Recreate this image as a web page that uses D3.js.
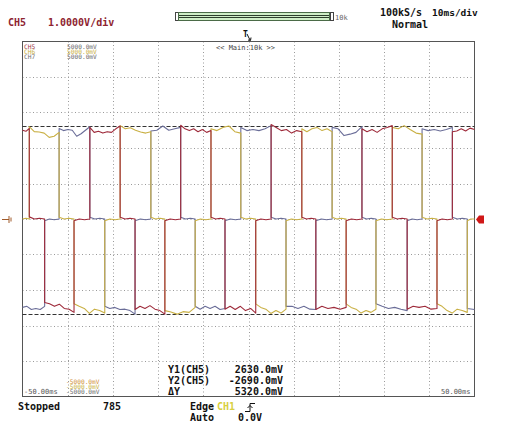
<!DOCTYPE html>
<html>
<head>
<meta charset="utf-8">
<script src="https://cdn.jsdelivr.net/npm/d3@7"></script>
<style>
  html, body { margin: 0; padding: 0; background: #fff; }
  svg { display: block; }
  text { font-family: "DejaVu Sans Mono", "Liberation Mono", monospace; }
  .big { font-size: 10px; font-weight: bold; }
</style>
</head>
<body>
<script>
// Scope capture: three line-voltage channels (six-step waveform), 10 ms/div, 1 V/div.

// Horizontal grid (ms) and vertical grid (V)
const timeTicks = [-50, -40, -30, -20, -10, 0, 10, 20, 30, 40, 50];
const voltTicks = [-5, -4, -3, -2, -1, 0, 1, 2, 3, 4, 5];
const timeLabels = ["-50.00ms", "50.00ms"];

// Cursor readouts (mV)
const cursorY1 = 2630.0;
const cursorY2 = -2690.0;
const cursorDelta = 5320.0;

// Channel info
const channels = ["CH5", "CH6", "CH7"];
const channelColors = ["#9e2a3a", "#c9b044", "#6a6d98"];
const channelTop = ["5000.0mV", "5000.0mV", "5000.0mV"];
const channelBottom = ["-5000.0mV", "-5000.0mV", "-5000.0mV"];

// Each segment: [start ms, end ms, samples (V) spread across the segment]
const ch5 = [
  [-50.0, -48.5, [2.50, 2.47, 2.55]],
  [-48.5, -45.1, [0.06, 0.0, 0.02, 0.0]],
  [-45.1, -38.6, [-2.35, -2.39, -2.46, -2.40, -2.52, -2.54, -2.63]],
  [-38.6, -35.1, [-0.05, 0.0, -0.02, 0.0]],
  [-35.1, -28.4, [2.58, 2.44, 2.47, 2.42, 2.46, 2.44, 2.54, 2.62]],
  [-28.4, -25.1, [0.05, 0.0, 0.02, 0.0]],
  [-25.1, -18.5, [-2.55, -2.46, -2.52, -2.44, -2.54, -2.58, -2.68]],
  [-18.5, -15.0, [-0.05, 0.0, -0.02, 0.0]],
  [-15.0, -8.3, [2.64, 2.54, 2.49, 2.54, 2.46, 2.52, 2.44, 2.49]],
  [-8.3, -5.2, [0.05, 0.0, 0.02, 0.0]],
  [-5.2, 1.6, [-2.54, -2.46, -2.55, -2.46, -2.58, -2.52, -2.65]],
  [1.6, 5.0, [-0.05, 0.0, -0.02, 0.0]],
  [5.0, 11.8, [2.66, 2.58, 2.49, 2.52, 2.42, 2.49, 2.46]],
  [11.8, 14.9, [0.05, 0.0, 0.02, 0.0]],
  [14.9, 21.6, [-2.55, -2.46, -2.52, -2.49, -2.54, -2.49]],
  [21.6, 25.1, [-0.05, 0.0, -0.02, 0.0]],
  [25.1, 31.8, [2.54, 2.46, 2.52, 2.44, 2.54, 2.58, 2.63]],
  [31.8, 35.1, [0.05, 0.0, 0.02, 0.0]],
  [35.1, 41.7, [-2.54, -2.46, -2.49, -2.46, -2.54, -2.52]],
  [41.7, 45.1, [-0.05, 0.0, -0.02, 0.0]],
  [45.1, 50.0, [2.46, 2.48, 2.54, 2.48, 2.56, 2.52]]
];

const ch6 = [
  [-50.0, -48.5, [0.0, 0.02, 0.0]],
  [-48.5, -41.9, [2.60, 2.46, 2.45, 2.42, 2.30, 2.33, 2.44]],
  [-41.9, -38.6, [0.05, 0.0, 0.02, 0.0]],
  [-38.6, -31.8, [-2.39, -2.46, -2.52, -2.66, -2.54, -2.58, -2.65]],
  [-31.8, -28.4, [-0.05, 0.0, -0.02, 0.0]],
  [-28.4, -21.6, [2.63, 2.54, 2.57, 2.50, 2.45, 2.42, 2.46]],
  [-21.6, -18.5, [0.05, 0.0, 0.02, 0.0]],
  [-18.5, -11.8, [-2.58, -2.62, -2.68, -2.61, -2.63, -2.49]],
  [-11.8, -8.3, [-0.05, 0.0, -0.02, 0.0]],
  [-8.3, -1.7, [2.54, 2.49, 2.58, 2.62, 2.46, 2.42]],
  [-1.7, 1.6, [0.05, 0.0, 0.02, 0.0]],
  [1.6, 8.3, [-2.39, -2.49, -2.54, -2.66, -2.58, -2.65, -2.54]],
  [8.3, 11.8, [-0.05, 0.0, -0.02, 0.0]],
  [11.8, 18.5, [2.54, 2.46, 2.54, 2.58, 2.49, 2.54, 2.46]],
  [18.5, 21.6, [0.05, 0.0, 0.02, 0.0]],
  [21.6, 28.2, [-2.39, -2.49, -2.54, -2.65, -2.58, -2.63, -2.54]],
  [28.2, 31.8, [-0.05, 0.0, -0.02, 0.0]],
  [31.8, 38.4, [2.58, 2.54, 2.63, 2.52, 2.42, 2.39]],
  [38.4, 41.7, [0.05, 0.0, 0.02, 0.0]],
  [41.7, 48.4, [-2.39, -2.46, -2.58, -2.65, -2.54, -2.58, -2.63]],
  [48.4, 50.0, [-0.05, 0.0, 0.0]]
];

const ch7 = [
  [-50.0, -45.1, [-2.49, -2.46, -2.55, -2.52, -2.55, -2.46]],
  [-45.1, -41.9, [-0.05, 0.0, -0.02, 0.0]],
  [-41.9, -35.1, [2.55, 2.49, 2.52, 2.50, 2.33, 2.40, 2.50, 2.60]],
  [-35.1, -31.8, [0.05, 0.0, 0.02, 0.0]],
  [-31.8, -25.1, [-2.46, -2.52, -2.49, -2.55, -2.54, -2.58, -2.68]],
  [-25.1, -21.6, [-0.05, 0.0, -0.02, 0.0]],
  [-21.6, -15.0, [2.48, 2.50, 2.62, 2.50, 2.54, 2.58]],
  [-15.0, -11.8, [0.05, 0.0, 0.02, 0.0]],
  [-11.8, -5.2, [-2.46, -2.54, -2.46, -2.52, -2.46, -2.55, -2.52]],
  [-5.2, -1.7, [-0.05, 0.0, -0.02, 0.0]],
  [-1.7, 5.0, [2.58, 2.49, 2.52, 2.49, 2.54, 2.63]],
  [5.0, 8.3, [0.05, 0.0, 0.02, 0.0]],
  [8.3, 14.9, [-2.46, -2.46, -2.52, -2.46, -2.54, -2.55]],
  [14.9, 18.5, [-0.05, 0.0, -0.02, 0.0]],
  [18.5, 25.1, [2.58, 2.54, 2.35, 2.39, 2.44, 2.60]],
  [25.1, 28.2, [0.05, 0.0, 0.02, 0.0]],
  [28.2, 35.1, [-2.39, -2.46, -2.52, -2.49, -2.54, -2.58]],
  [35.1, 38.4, [-0.05, 0.0, -0.02, 0.0]],
  [38.4, 45.1, [2.54, 2.49, 2.52, 2.48, 2.52, 2.58]],
  [45.1, 48.4, [0.05, 0.0, 0.02, 0.0]],
  [48.4, 50.0, [-2.52, -2.55]]
];

const W = 506, H = 423;
const plot = { left: 22.5, right: 474.5, top: 41.5, bottom: 396.5 };

const x = d3.scaleLinear().domain([-50, 50]).range([plot.left, plot.right]);
const y = d3.scaleLinear().domain([-5, 5]).range([plot.bottom, plot.top]);

const svg = d3.select("body").append("svg").attr("width", W).attr("height", H);

// ---- header ----
const head = svg.append("g");
head.append("text").attr("class", "big").attr("x", 8).attr("y", 26)
  .attr("fill", "#8e2430").text("CH5");
head.append("text").attr("class", "big").attr("x", 48).attr("y", 26)
  .attr("fill", "#8e2430").text("1.0000V/div");

// zoom position bar
head.append("rect").attr("x", 175.5).attr("y", 12.5).attr("width", 3).attr("height", 8)
  .attr("fill", "#fff").attr("stroke", "#444");
head.append("rect").attr("x", 178.5).attr("y", 12.5).attr("width", 151).attr("height", 8)
  .attr("fill", "#cfeec6").attr("stroke", "#4b6b48");
head.append("line").attr("x1", 179).attr("x2", 329).attr("y1", 15.5).attr("y2", 15.5).attr("stroke", "#2d3d2c");
head.append("line").attr("x1", 179).attr("x2", 329).attr("y1", 17.5).attr("y2", 17.5).attr("stroke", "#2d3d2c");
head.append("rect").attr("x", 330.5).attr("y", 12.5).attr("width", 3).attr("height", 8)
  .attr("fill", "#fff").attr("stroke", "#444");
head.append("text").attr("x", 335).attr("y", 20).attr("font-size", 7)
  .attr("fill", "#666").text("10k");

head.append("text").attr("class", "big").attr("x", 380).attr("y", 16)
  .attr("fill", "#111").text("100kS/s");
head.append("text").attr("class", "big").attr("x", 432).attr("y", 16).style("font-size", "9.5px")
  .attr("fill", "#111").text("10ms/div");
head.append("text").attr("class", "big").attr("x", 392).attr("y", 28)
  .attr("fill", "#111").text("Normal");

// trigger position marker
head.append("text").attr("x", 243).attr("y", 37).attr("font-size", 8).attr("font-weight", "bold")
  .attr("fill", "#111").text("T");
head.append("path").attr("d", "M247,34 L250,40 M248,40 L250.5,40.5 L251,37.5")
  .attr("stroke", "#111").attr("fill", "none").attr("stroke-width", 1);

// ---- graticule ----
const grid = svg.append("g");
grid.selectAll("line.v").data(timeTicks.slice(1, -1)).join("line")
  .attr("x1", d => Math.round(x(d)) + 0.5).attr("x2", d => Math.round(x(d)) + 0.5)
  .attr("y1", plot.top).attr("y2", plot.bottom)
  .attr("stroke", "#9a9a9a").attr("stroke-dasharray", "1,2.5");
grid.selectAll("line.h").data(voltTicks.slice(1, -1)).join("line")
  .attr("y1", d => Math.round(y(d)) + 0.5).attr("y2", d => Math.round(y(d)) + 0.5)
  .attr("x1", plot.left).attr("x2", plot.right)
  .attr("stroke", "#9a9a9a").attr("stroke-dasharray", "1,2.5");
grid.append("rect").attr("x", plot.left).attr("y", plot.top)
  .attr("width", plot.right - plot.left).attr("height", plot.bottom - plot.top)
  .attr("fill", "none").attr("stroke", "#555");

// cursor lines
[cursorY1, cursorY2].forEach(mv => {
  grid.append("line").attr("x1", plot.left).attr("x2", plot.right)
    .attr("y1", Math.round(y(mv / 1000)) + 0.5).attr("y2", Math.round(y(mv / 1000)) + 0.5)
    .attr("stroke", "#333").attr("stroke-dasharray", "4,2");
});

// ---- traces ----
function toPoints(segs) {
  const pts = [];
  segs.forEach(([t0, t1, vals]) => {
    const n = vals.length;
    vals.forEach((v, i) => pts.push([t0 + (t1 - t0) * (n === 1 ? 0 : i / (n - 1)), v]));
  });
  return pts;
}
const line = d3.line().x(d => x(d[0])).y(d => y(d[1]));
const traces = svg.append("g");
[[ch7, 2], [ch6, 1], [ch5, 0]].forEach(([segs, k]) => {
  traces.append("path").attr("d", line(toPoints(segs)))
    .attr("fill", "none").attr("stroke", channelColors[k])
    .attr("stroke-width", 1.1).attr("stroke-linejoin", "round");
});

// ---- on-screen labels ----
const lab = svg.append("g");
const tinyColors = ["#a0404a", "#c9b044", "#707070"];
channels.forEach((c, i) => {
  lab.append("text").attr("x", 24).attr("y", 48.5 + i * 5).attr("font-size", 6.2)
    .attr("fill", tinyColors[i]).text(c);
  lab.append("text").attr("x", 67).attr("y", 48.5 + i * 5).attr("font-size", 6.2)
    .attr("fill", i === 1 ? "#c9b044" : "#6a6a6a").text(channelTop[i]);
  lab.append("text").attr("x", 66).attr("y", 384 + i * 5).attr("font-size", 6.2)
    .attr("fill", ["#d0903a", "#c9b044", "#6a6a6a"][i]).text(channelBottom[i]);
});
lab.append("text").attr("x", 216).attr("y", 50).attr("font-size", 7)
  .attr("fill", "#444").text("<< Main:10k >>");
lab.append("text").attr("x", 24).attr("y", 394).attr("font-size", 7)
  .attr("fill", "#555").text(timeLabels[0]);
lab.append("text").attr("x", 441).attr("y", 394).attr("font-size", 7)
  .attr("fill", "#555").text(timeLabels[1]);

const fmt = v => v.toFixed(1) + "mV";
const rows = [["Y1(CH5)", fmt(cursorY1)], ["Y2(CH5)", fmt(cursorY2)], ["\u0394Y", fmt(cursorDelta)]];
rows.forEach(([k, v], i) => {
  lab.append("text").attr("class", "big").attr("x", 168).attr("y", 373 + i * 11)
    .attr("fill", "#111").text(k);
  lab.append("text").attr("class", "big").attr("x", 283).attr("y", 373 + i * 11)
    .attr("text-anchor", "end").attr("fill", "#111").text(v);
});

// ground marker (left) and trigger level marker (right)
lab.append("path").attr("d", "M2,219.5 H9 M9,216 V223 M11,217.5 V221.5")
  .attr("stroke", "#a05a2a").attr("fill", "none");
lab.append("path").attr("d", "M476,219.5 L479,215.5 H484 V223.5 H479 Z")
  .attr("fill", "#d01818");

// ---- status line ----
const st = svg.append("g");
st.append("text").attr("class", "big").attr("x", 18).attr("y", 410).attr("fill", "#111").text("Stopped");
st.append("text").attr("class", "big").attr("x", 103).attr("y", 410).attr("fill", "#111").text("785");
st.append("text").attr("class", "big").attr("x", 190).attr("y", 410).attr("fill", "#111").text("Edge");
st.append("text").attr("class", "big").attr("x", 217).attr("y", 410).attr("fill", "#d8d040").text("CH1");
st.append("text").attr("class", "big").attr("x", 190).attr("y", 421).attr("fill", "#111").text("Auto");
st.append("text").attr("class", "big").attr("x", 238).attr("y", 421).attr("fill", "#111").text("0.0V");
st.append("path").attr("d", "M245,411.5 H250 V403.5 H255 M247.5,408 L250,405.5 L252.5,408")
  .attr("stroke", "#111").attr("fill", "none");
</script>
</body>
</html>
